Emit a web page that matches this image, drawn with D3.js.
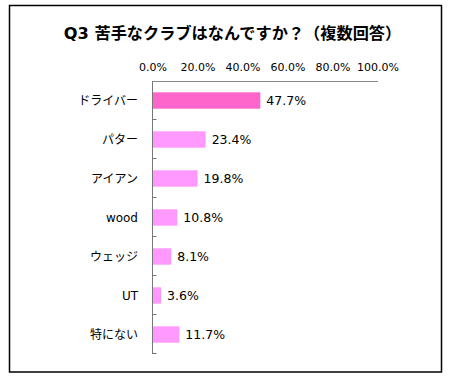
<!DOCTYPE html>
<html lang="ja">
<head>
<meta charset="UTF-8">
<script src="https://cdn.jsdelivr.net/npm/d3@7"></script>
<style>
    body { margin: 0; background: #fff; font-family: Verdana, "DejaVu Sans", "Noto Sans CJK JP", sans-serif; }
</style>
</head>
<body>
<script>
    // chart data
    const title = "Q3 苦手なクラブはなんですか？（複数回答）";
    const categories = ["ドライバー", "パター", "アイアン", "wood", "ウェッジ", "UT", "特にない"];
    const values = [47.7, 23.4, 19.8, 10.8, 8.1, 3.6, 11.7];
    const xTicks = [0, 20, 40, 60, 80, 100];

    const width = 449, height = 380;
    const svg = d3.select("body").append("svg")
        .attr("width", width)
        .attr("height", height);

    // outer frame
    svg.append("rect")
        .attr("x", 9.5).attr("y", 5.5)
        .attr("width", 432).attr("height", 366.5)
        .attr("fill", "none")
        .attr("stroke", "#000")
        .attr("stroke-width", 1.5);

    svg.append("text")
        .attr("x", 232.5).attr("y", 39)
        .attr("text-anchor", "middle")
        .attr("font-size", 16.2)
        .attr("font-weight", "bold")
        .attr("font-family", "'DejaVu Sans', 'Noto Sans CJK JP', sans-serif")
        .text(title);

    const x = d3.scaleLinear().domain([0, 100]).range([153, 378]);
    const y = d3.scaleBand().domain(categories).range([81, 354]).paddingInner(0.58).paddingOuter(0.29);

    // top axis line + labels
    svg.append("line")
        .attr("x1", x(0)).attr("x2", x(100))
        .attr("y1", 81.5).attr("y2", 81.5)
        .attr("stroke", "#888");

    svg.selectAll(".xlab")
        .data(xTicks)
        .enter().append("text")
        .attr("class", "xlab")
        .attr("x", d => x(d))
        .attr("y", 71)
        .attr("text-anchor", "middle")
        .attr("font-size", 11)
        .attr("fill", "#000")
        .text(d => d.toFixed(1) + "%");

    // category axis
    const step = y.step();
    svg.append("line")
        .attr("x1", 152.5).attr("x2", 152.5)
        .attr("y1", 81).attr("y2", 354)
        .attr("stroke", "#777");

    svg.selectAll(".tick")
        .data(d3.range(categories.length))
        .enter().append("line")
        .attr("class", "tick")
        .attr("x1", 152.5).attr("x2", 156.5)
        .attr("y1", i => 81 + step * (i + 1) - 0.5)
        .attr("y2", i => 81 + step * (i + 1) - 0.5)
        .attr("stroke", "#777");

    svg.selectAll(".bar")
        .data(values)
        .enter().append("rect")
        .attr("class", "bar")
        .attr("x", x(0))
        .attr("y", (d, i) => y(categories[i]))
        .attr("width", d => x(d) - x(0))
        .attr("height", y.bandwidth())
        .attr("fill", (d, i) => i === 0 ? "#ff66cc" : "#ff99ff");

    svg.selectAll(".cat")
        .data(categories)
        .enter().append("text")
        .attr("class", "cat")
        .attr("x", 138)
        .attr("y", d => y(d) + y.bandwidth() / 2)
        .attr("dy", "0.35em")
        .attr("text-anchor", "end")
        .attr("font-size", 12)
        .text(d => d);

    svg.selectAll(".val")
        .data(values)
        .enter().append("text")
        .attr("class", "val")
        .attr("x", d => x(d) + 6)
        .attr("y", (d, i) => y(categories[i]) + y.bandwidth() / 2)
        .attr("dy", "0.35em")
        .attr("font-size", 12.5)
        .text(d => d.toFixed(1) + "%");
</script>
</body>
</html>
